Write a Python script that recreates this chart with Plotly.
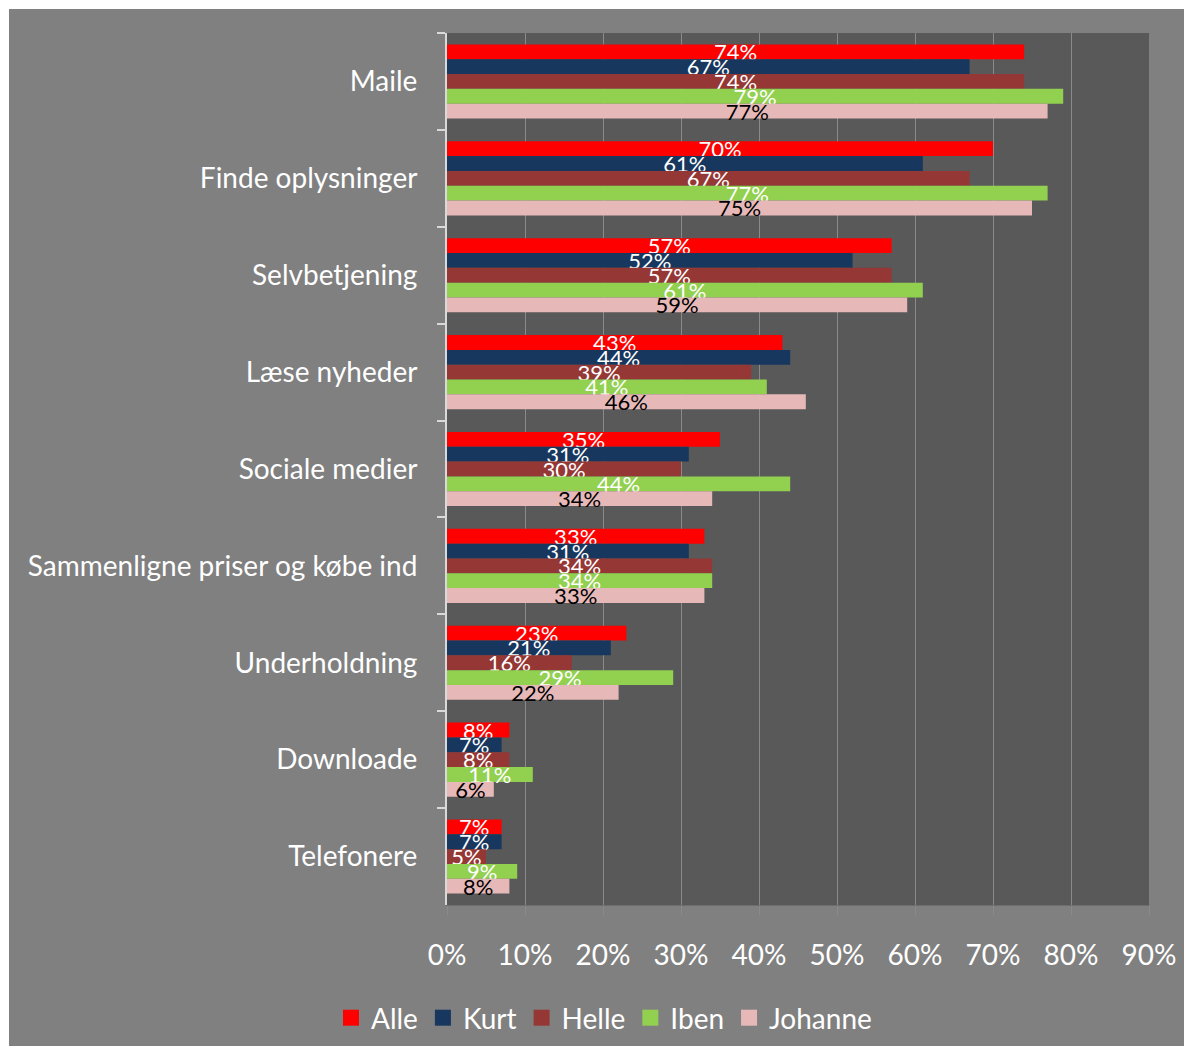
import plotly.graph_objects as go

# Activities (top to bottom) and share of each person doing them
categories = [
    "Maile",
    "Finde oplysninger",
    "Selvbetjening",
    "Læse nyheder",
    "Sociale medier",
    "Sammenligne priser og købe ind",
    "Underholdning",
    "Downloade",
    "Telefonere",
]

alle = [0.74, 0.70, 0.57, 0.43, 0.35, 0.33, 0.23, 0.08, 0.07]
kurt = [0.67, 0.61, 0.52, 0.44, 0.31, 0.31, 0.21, 0.07, 0.07]
helle = [0.74, 0.67, 0.57, 0.39, 0.30, 0.34, 0.16, 0.08, 0.05]
iben = [0.79, 0.77, 0.61, 0.41, 0.44, 0.34, 0.29, 0.11, 0.09]
johanne = [0.77, 0.75, 0.59, 0.46, 0.34, 0.33, 0.22, 0.06, 0.08]

x_ticks = [0.0, 0.1, 0.2, 0.3, 0.4, 0.5, 0.6, 0.7, 0.8, 0.9]

series = [
    ("Alle", alle, "#FF0000", "white"),
    ("Kurt", kurt, "#17375E", "white"),
    ("Helle", helle, "#953735", "white"),
    ("Iben", iben, "#92D050", "white"),
    ("Johanne", johanne, "#E6B9B8", "black"),
]

FONT = "Lato, 'Open Sans', sans-serif"

fig = go.Figure()
for name, values, color, txtcolor in series:
    fig.add_trace(go.Bar(
        name=name,
        y=categories,
        x=values,
        orientation="h",
        marker=dict(color=color, line=dict(width=0)),
        text=[f"{round(v * 100)}%" for v in values],
        textposition="inside",
        insidetextanchor="middle",
        textangle=0,
        textfont=dict(family=FONT, size=22, color=txtcolor),
        cliponaxis=False,
        hoverinfo="skip",
        showlegend=False,
        legendgroup=name,
    ))

# square legend keys
for name, values, color, txtcolor in series:
    fig.add_trace(go.Scatter(
        name=name,
        x=[None],
        y=[None],
        mode="markers",
        marker=dict(symbol="square", size=16, color=color),
        showlegend=True,
        legendgroup=name,
        hoverinfo="skip",
    ))

W, H = 1184, 1046
L, R, T, B = 447, 35, 33, 141
pw, ph = W - L - R, H - T - B

def px_x(p):
    return (p - L) / pw

def px_y(p):
    return (H - B - p) / ph

fig.update_layout(
    width=W,
    height=H,
    autosize=False,
    margin=dict(l=L, r=R, t=T, b=B, pad=0, autoexpand=False),
    paper_bgcolor="#808080",
    plot_bgcolor="#595959",
    barmode="group",
    bargap=0.235,
    bargroupgap=0,
    uniformtext=dict(minsize=22, mode="show"),
    font=dict(family=FONT, color="white", size=28),
    showlegend=True,
    legend=dict(
        orientation="h",
        x=px_x(331),
        xanchor="left",
        y=px_y(1018),
        yanchor="middle",
        font=dict(family=FONT, size=28, color="white"),
        bgcolor="rgba(0,0,0,0)",
        traceorder="normal",
        itemsizing="trace",
        itemwidth=30,
    ),
    xaxis=dict(
        range=[0, 0.9],
        tickvals=x_ticks,
        tickformat=".0%",
        automargin=False,
        showgrid=True,
        gridcolor="#8A8A8A",
        gridwidth=1,
        zeroline=False,
        showline=True,
        linecolor="#6E6E6E",
        ticks="outside",
        ticklen=9,
        tickcolor="#8A8A8A",
        ticklabelstandoff=16,
        tickfont=dict(family=FONT, size=28, color="white"),
    ),
    yaxis=dict(
        autorange="reversed",
        type="category",
        automargin=False,
        showgrid=False,
        showline=True,
        linecolor="#D9D9D9",
        linewidth=2,
        ticks="outside",
        tickson="boundaries",
        ticklen=8,
        tickwidth=2,
        tickcolor="#D9D9D9",
        ticklabelstandoff=22,
        tickfont=dict(family=FONT, size=28, color="white"),
    ),
    shapes=[
        # white page margin along the top and left
        dict(type="rect", xref="paper", yref="paper",
             x0=px_x(0), x1=px_x(W), y0=px_y(9), y1=px_y(0),
             fillcolor="white", line=dict(width=0), layer="above"),
        dict(type="rect", xref="paper", yref="paper",
             x0=px_x(0), x1=px_x(9), y0=px_y(H), y1=px_y(0),
             fillcolor="white", line=dict(width=0), layer="above"),
    ],
)

fig.write_html("out.html")
